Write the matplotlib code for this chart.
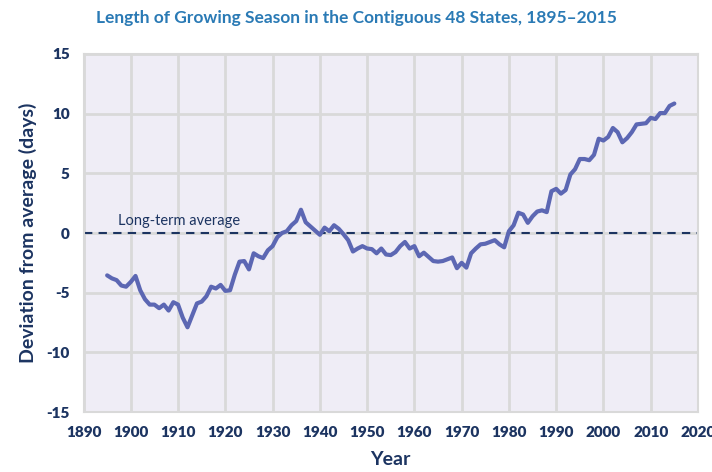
import matplotlib
matplotlib.use("Agg")
import matplotlib.pyplot as plt
import numpy as np

# Data (deviation from average, days)
years = list(range(1895, 2016))
deviation = [
    -3.55, -3.8, -3.95, -4.4, -4.5, -4.1, -3.6, -4.8, -5.55, -6.0,    # 1895-1904
    -6.0, -6.3, -6.0, -6.5, -5.8, -6.0, -7.1, -7.9, -6.9, -5.9,       # 1905-1914
    -5.75, -5.3, -4.5, -4.65, -4.35, -4.85, -4.8, -3.5, -2.4, -2.35,  # 1915-1924
    -3.05, -1.7, -1.95, -2.1, -1.45, -1.1, -0.35, 0.0, 0.15, 0.65,    # 1925-1934
    1.0, 1.95, 0.9, 0.55, 0.2, -0.15, 0.45, 0.15, 0.65, 0.35,         # 1935-1944
    -0.1, -0.6, -1.55, -1.3, -1.1, -1.3, -1.35, -1.7, -1.3, -1.8,     # 1945-1954
    -1.85, -1.6, -1.1, -0.75, -1.3, -1.1, -1.95, -1.65, -2.0, -2.35,  # 1955-1964
    -2.4, -2.35, -2.2, -2.05, -2.95, -2.5, -2.9, -1.7, -1.3, -0.95,   # 1965-1974
    -0.9, -0.75, -0.6, -0.95, -1.2, 0.15, 0.65, 1.7, 1.55, 0.85,      # 1975-1984
    1.4, 1.8, 1.9, 1.75, 3.5, 3.7, 3.3, 3.6, 4.9, 5.35,               # 1985-1994
    6.2, 6.2, 6.1, 6.55, 7.9, 7.75, 8.05, 8.8, 8.45, 7.6,             # 1995-2004
    7.95, 8.45, 9.1, 9.15, 9.2, 9.65, 9.55, 10.05, 10.05, 10.65,      # 2005-2014
    10.85,                                                             # 2015
]
x_ticks = list(range(1890, 2021, 10))
y_ticks = [-15, -10, -5, 0, 5, 10, 15]

navy = "#1c3461"
title_blue = "#2a7ab5"
line_color = "#5c67b3"

plt.rcParams["font.family"] = ["Lato", "DejaVu Sans"]
plt.rcParams["axes.unicode_minus"] = False

fig = plt.figure(figsize=(7.12, 4.72), dpi=100)
ax = fig.add_axes([0.1173, 0.1271, 0.8630, 0.7585])

ax.set_facecolor("#efedf6")
ax.grid(True, color="#d9d9d9", linewidth=2)
ax.set_axisbelow(True)
for s in ax.spines.values():
    s.set_color("#d9d9d9")
    s.set_linewidth(1.5)

ax.axhline(0, color=navy, linestyle=(0, (4, 3)), linewidth=1.5, zorder=2)
ax.text(1897.2, 0.45, "Long-term average", color=navy, fontsize=10.5,
        ha="left", va="bottom")

ax.plot(years, deviation, color=line_color, linewidth=3,
        solid_joinstyle="round", solid_capstyle="round", zorder=3)

ax.set_xlim(1890, 2020)
ax.set_ylim(-15, 15)
ax.set_xticks(x_ticks, labels=[str(t) for t in x_ticks], fontweight="heavy")
ax.set_yticks(y_ticks, labels=[str(t) for t in y_ticks], fontweight="heavy")
ax.tick_params(length=0, labelsize=11, labelcolor=navy)
ax.tick_params(axis="x", pad=10)
ax.tick_params(axis="y", pad=10)

ax.set_xlabel("Year", fontsize=14, color=navy, fontweight="bold", labelpad=9)
ax.set_ylabel("Deviation from average (days)", fontsize=14, color=navy,
              fontweight="bold", labelpad=7)

fig.text(0.5, 0.962, "Length of Growing Season in the Contiguous 48 States, 1895\u20132015",
         ha="center", va="center", fontsize=12.5, color=title_blue, fontweight="bold")

fig.savefig("out.png", dpi=100)
